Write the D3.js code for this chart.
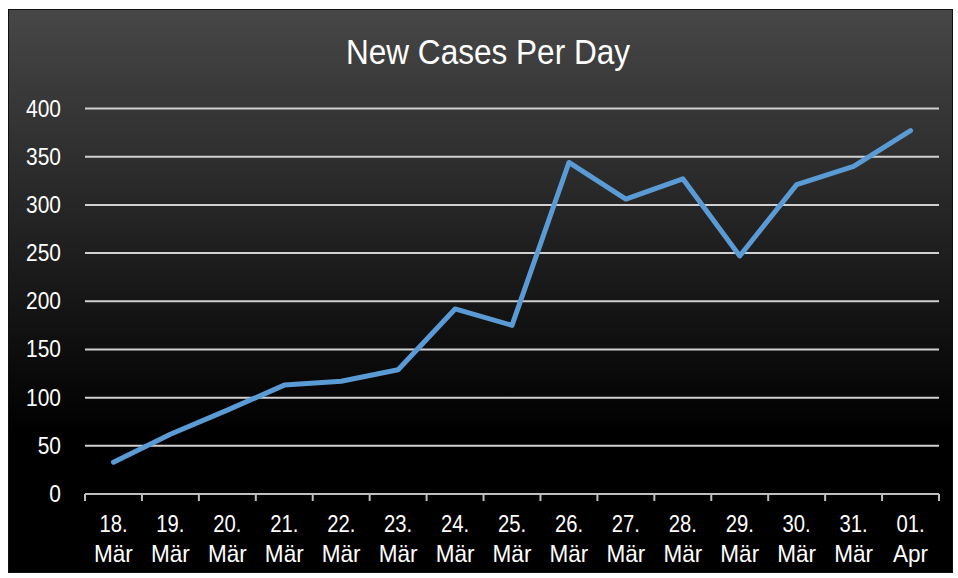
<!DOCTYPE html>
<html>
<head>
<meta charset="utf-8">
<script src="https://cdn.jsdelivr.net/npm/d3@7"></script>
<style>
body { margin: 0; background: #fff; }
svg text { font-family: "Liberation Sans", Arial, sans-serif; fill: #fff; }
</style>
</head>
<body>
<div id="chart"></div>
<script>
var days = ["18.", "19.", "20.", "21.", "22.", "23.", "24.", "25.", "26.", "27.", "28.", "29.", "30.", "31.", "01."];
var months = ["Mär", "Mär", "Mär", "Mär", "Mär", "Mär", "Mär", "Mär", "Mär", "Mär", "Mär", "Mär", "Mär", "Mär", "Apr"];
var cases = [33, 62, 87, 113, 117, 129, 192, 175, 344, 306, 327, 247, 321, 340, 377];
var yTicks = [0, 50, 100, 150, 200, 250, 300, 350, 400];

var svg = d3.select("#chart").append("svg")
	.attr("width", 958)
	.attr("height", 578);

var grad = svg.append("defs").append("linearGradient")
	.attr("id", "bg")
	.attr("x1", 0).attr("y1", 0).attr("x2", 0).attr("y2", 1);
grad.append("stop").attr("offset", "0%").attr("stop-color", "#474747");
grad.append("stop").attr("offset", "75%").attr("stop-color", "#000");
grad.append("stop").attr("offset", "100%").attr("stop-color", "#000");

svg.append("rect")
	.attr("x", 8.5).attr("y", 9.5)
	.attr("width", 944).attr("height", 563)
	.attr("fill", "url(#bg)")
	.attr("stroke", "#111");

// narrow text helper (the original font is condensed)
function squeeze(tx, ty, sx) {
	return "translate(" + tx + "," + ty + ") scale(" + sx + ",1)";
}

// title
svg.append("text")
	.attr("transform", squeeze(488, 64, 0.877))
	.attr("text-anchor", "middle")
	.style("font-size", "36px")
	.text("New Cases Per Day");

var keys = days.map(function(d, i) { return i; });

var x = d3.scaleBand()
	.domain(keys)
	.range([85, 939]);

var y = d3.scaleLinear()
	.domain([0, 400])
	.range([494, 108.5]);

// grid
svg.append("g")
	.selectAll("line")
	.data(yTicks.slice(1))
	.enter()
	.append("line")
	.attr("x1", 85).attr("x2", 939)
	.attr("y1", function(d) { return y(d); })
	.attr("y2", function(d) { return y(d); })
	.attr("stroke", "#d0d0d0")
	.attr("stroke-width", 2);

// y labels
svg.append("g")
	.selectAll("text")
	.data(yTicks)
	.enter()
	.append("text")
	.attr("transform", function(d) { return squeeze(61, y(d) + 8, 0.91); })
	.attr("text-anchor", "end")
	.style("font-size", "23px")
	.text(function(d) { return d; });

// x axis
var xAxis = svg.append("g");
xAxis.append("line")
	.attr("x1", 85).attr("x2", 939)
	.attr("y1", 494).attr("y2", 494)
	.attr("stroke", "#bfbfbf")
	.attr("stroke-width", 2);
xAxis.selectAll(".tick")
	.data(keys.concat([keys.length]))
	.enter()
	.append("line")
	.attr("class", "tick")
	.attr("x1", function(d) { return d < keys.length ? x(d) : x.range()[1]; })
	.attr("x2", function(d) { return d < keys.length ? x(d) : x.range()[1]; })
	.attr("y1", 494).attr("y2", 501)
	.attr("stroke", "#bfbfbf")
	.attr("stroke-width", 2);

var cx = function(d) { return x(d) + x.bandwidth() / 2; };

xAxis.selectAll(".day")
	.data(keys)
	.enter()
	.append("text")
	.attr("class", "day")
	.attr("transform", function(d) { return squeeze(cx(d), 531.5, 0.88); })
	.attr("text-anchor", "middle")
	.style("font-size", "23px")
	.text(function(d) { return days[d]; });

xAxis.selectAll(".month")
	.data(keys)
	.enter()
	.append("text")
	.attr("class", "month")
	.attr("transform", function(d) { return squeeze(cx(d), 561.5, 0.98); })
	.attr("text-anchor", "middle")
	.style("font-size", "23px")
	.text(function(d) { return months[d]; });

// line
var line = d3.line()
	.x(function(d, i) { return cx(i); })
	.y(function(d) { return y(d); });

svg.append("path")
	.datum(cases)
	.attr("d", line)
	.attr("fill", "none")
	.attr("stroke", "#5b9bd5")
	.attr("stroke-width", 5)
	.attr("stroke-linejoin", "round")
	.attr("stroke-linecap", "round");
</script>
</body>
</html>
